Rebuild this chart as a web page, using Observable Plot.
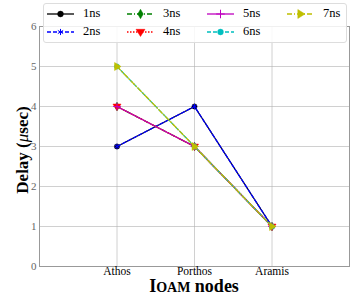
<!DOCTYPE html>
<html><head><meta charset="utf-8">
<script src="https://cdn.jsdelivr.net/npm/d3@7"></script>
<script src="https://cdn.jsdelivr.net/npm/@observablehq/plot@0.6"></script>
<style>
body{margin:0;background:#fff;}
#wrap{position:relative;width:354px;height:298px;font-family:"Liberation Serif",serif;}
#wrap svg text{font-family:"Liberation Serif",serif !important;}
#legend{position:absolute;left:43px;top:3px;width:302px;height:38px;border:1px solid #ddd;border-radius:3px;background:rgba(255,255,255,0.85);}
.item{position:absolute;display:flex;align-items:center;font-size:12.5px;color:#000;font-family:"Liberation Serif",serif;}
.item svg{margin-right:9px;}
</style></head>
<body><div id="wrap"><div id="legend"></div></div>
<script>
const nodes = ["Athos", "Porthos", "Aramis"];
const series = ["1ns", "2ns", "3ns", "4ns", "5ns", "6ns", "7ns"];
const values = [
  [3, 4, 1],
  [3, 4, 1],
  [4, 3, 1],
  [4, 3, 1],
  [4, 3, 1],
  [5, 3, 1],
  [5, 3, 1]
];
const colors = ["#000000", "#0000ff", "#008000", "#ff0000", "#bf00bf", "#00bfbf", "#bfbf00"];
const dashes = ["none", "4,2", "5,2,1,2", "1.5,1.5", "none", "4,2", "5,2,1,2"];
const triDown = {draw(c, s){const r=Math.sqrt(s/1.3); c.moveTo(-r,-r*0.6); c.lineTo(r,-r*0.6); c.lineTo(0,r); c.closePath();}};
const triRight = {draw(c, s){const r=Math.sqrt(s/1.3); c.moveTo(-r*0.6,-r); c.lineTo(-r*0.6,r); c.lineTo(r,0); c.closePath();}};
const symbols = ["circle", "asterisk", "diamond", triDown, "plus", "circle", triRight];
const yTicks = [0, 1, 2, 3, 4, 5, 6];
const FONT = "Liberation Serif";

const rows = series.flatMap((s, i) => values[i].map((v, j) => ({s, i, j, v})));

const marks = [
  Plot.gridY(yTicks, {stroke: "#b0b0b0", strokeOpacity: 0.6}),
  Plot.gridX([0, 1, 2], {stroke: "#b0b0b0", strokeOpacity: 0.6}),
  Plot.frame({stroke: "#999"})
];
series.forEach((s, i) => {
  const d = rows.filter(r => r.i === i);
  marks.push(Plot.line(d, {x: "j", y: "v", stroke: colors[i], strokeWidth: 1.3, strokeDasharray: dashes[i]}));
  const sym = symbols[i];
  const isStroke = sym === "asterisk" || sym === "plus";
  marks.push(Plot.dot(d, {x: "j", y: "v", symbol: () => sym, r: 2.6,
    fill: isStroke ? "none" : colors[i], stroke: colors[i], strokeWidth: isStroke ? 1 : 0.5}));
});

const chart = Plot.plot({
  width: 354, height: 298,
  marginLeft: 39, marginRight: 5, marginTop: 26, marginBottom: 32,
  style: {fontFamily: FONT, fontSize: "11px", background: "transparent"},
  x: {domain: [-1, 3], label: null},
  y: {domain: [0, 6], label: null},
  symbol: {type: "identity"},
  marks: [
    ...marks,
    Plot.axisY({ticks: yTicks, tickFormat: d => String(d), tickSize: 0, tickPadding: 3, fill: "#666", fontFamily: FONT, fontSize: 11, label: null}),
    Plot.axisX({ticks: [0, 1, 2], tickFormat: i => nodes[i], tickSize: 0, tickPadding: 0, fill: "#000", fontFamily: FONT, fontSize: 11.5, label: null})
  ]
});
document.getElementById("wrap").prepend(chart);

const svg = d3.select(chart);
const xl = svg.append("text").attr("x", 194).attr("y", 292).attr("text-anchor", "middle")
  .attr("font-family", FONT).attr("font-weight", "bold").attr("font-size", "18px").attr("fill", "#000");
xl.append("tspan").text("I");
xl.append("tspan").attr("font-size", "14px").text("OAM");
xl.append("tspan").text(" nodes");
const yl = svg.append("text").attr("transform", "translate(28,150) rotate(-90)").attr("text-anchor", "middle")
  .attr("font-family", FONT).attr("font-weight", "bold").attr("font-size", "17px").attr("fill", "#000");
yl.append("tspan").text("Delay (");
yl.append("tspan").attr("font-style", "italic").attr("font-weight", "normal").text("μ");
yl.append("tspan").text("sec)");

// legend
const leg = document.getElementById("legend");
series.forEach((s, i) => {
  const col = Math.floor(i / 2), row = i % 2;
  const el = document.createElement("div");
  el.className = "item";
  el.style.left = (3 + col * 80) + "px";
  el.style.top = (2 + row * 18) + "px";
  const sym = symbols[i];
  const isStroke = sym === "asterisk" || sym === "plus";
  const symPath = typeof sym === "string" ? d3.symbol(d3[{circle:"symbolCircle",asterisk:"symbolAsterisk",diamond:"symbolDiamond",plus:"symbolPlus"}[sym]], 26)() : d3.symbol(sym, 26)();
  el.innerHTML = `<svg width="27" height="14"><line x1="0" x2="27" y1="7" y2="7" stroke="${colors[i]}" stroke-width="1.3" stroke-dasharray="${dashes[i]}"/>` +
    `<path transform="translate(13.5,7)" d="${symPath}" fill="${isStroke ? "none" : colors[i]}" stroke="${colors[i]}" stroke-width="${isStroke ? 1 : 0.5}"/></svg><span>${s}</span>`;
  leg.appendChild(el);
});
</script></body></html>
